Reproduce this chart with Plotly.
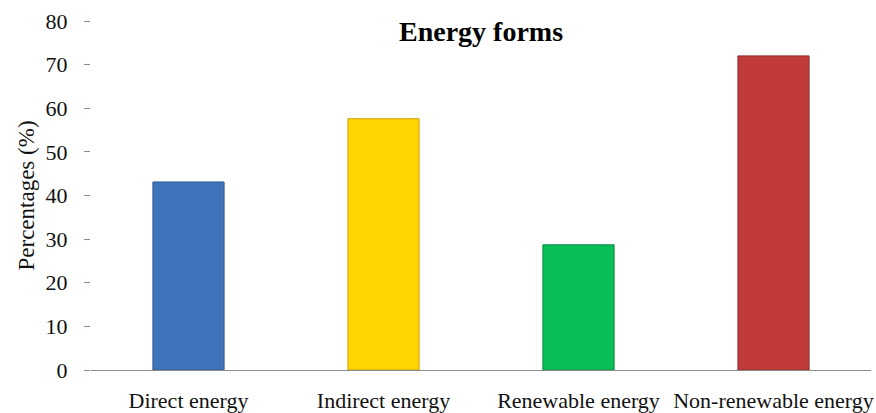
import plotly.graph_objects as go

# Share of each energy form in total input (%)
categories = ["Direct energy", "Indirect energy", "Renewable energy", "Non-renewable energy"]
percentages = [43.1, 57.6, 28.7, 72.0]
bar_colors = ["#3f74bb", "#ffd400", "#0abf58", "#c23b3b"]
edge_colors = ["#2d5a96", "#c9a400", "#068a3f", "#8f2a2a"]
y_ticks = [0, 10, 20, 30, 40, 50, 60, 70, 80]

serif = "Liberation Serif"
text_color = "#111111"

fig = go.Figure(
    go.Bar(
        x=categories,
        y=percentages,
        marker=dict(color=bar_colors, line=dict(color=edge_colors, width=1)),
        width=0.365,
        showlegend=False,
    )
)

fig.update_layout(
    width=876,
    height=413,
    margin=dict(l=91, r=5, t=21, b=43),
    paper_bgcolor="white",
    plot_bgcolor="white",
    font=dict(family=serif, size=22, color=text_color),
    title=dict(
        text="<b>Energy forms</b>",
        font=dict(family=serif, size=28, color="#000000"),
        x=0.5,
        xanchor="center",
        xref="paper",
        y=1 - 31 / 413,
        yref="container",
        yanchor="middle",
    ),
)

fig.update_yaxes(
    range=[0, 80],
    tickvals=y_ticks,
    ticks="outside",
    ticklen=6,
    tickcolor="#8c8c8c",
    tickwidth=1,
    ticklabelstandoff=12,
    showgrid=False,
    zeroline=False,
    showline=False,
    automargin=False,
    tickfont=dict(family=serif, size=22, color=text_color),
    title=dict(text="Percentages (%)", font=dict(family=serif, size=23, color=text_color), standoff=4),
)

fig.update_xaxes(
    showline=True,
    linecolor="#8c8c8c",
    linewidth=1,
    ticks="",
    showgrid=False,
    automargin=False,
    ticklabelstandoff=11,
    tickfont=dict(family=serif, size=22, color=text_color),
)

fig.write_html("out.html")
